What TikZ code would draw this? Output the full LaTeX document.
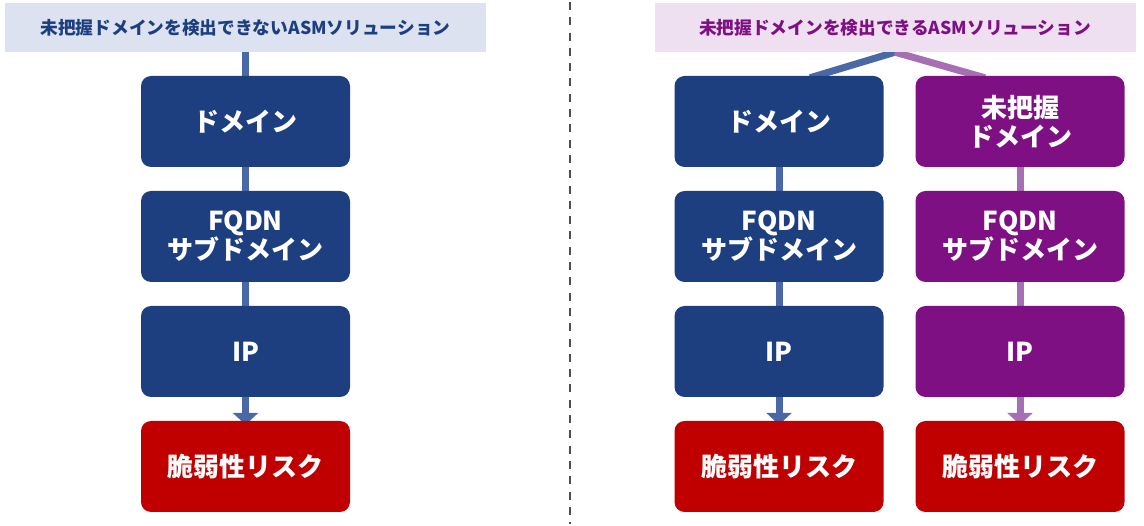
\documentclass[tikz,border=0pt]{standalone}
\usepackage{fontspec}
\newfontfamily\jp{Noto Sans CJK JP}
\usetikzlibrary{arrows.meta,backgrounds}
\definecolor{dblue}{HTML}{1E3F7F}
\definecolor{dpurple}{HTML}{7E1083}
\definecolor{dred}{HTML}{C00000}
\definecolor{lblue}{HTML}{4A68A6}
\definecolor{lpurple}{HTML}{A76FB3}
\definecolor{tblue}{HTML}{DCE2EF}
\definecolor{tpurple}{HTML}{EEE0F0}
\definecolor{dashgray}{HTML}{4D4D4D}
\tikzset{
  titlebox/.style={fill=#1, minimum width=481pt, minimum height=49pt, inner sep=0pt, font=\jp\bfseries\fontsize{17.7}{20}\selectfont},
  stepbox/.style={fill=#1, rounded corners=10pt, minimum width=209pt, minimum height=91pt, inner sep=0pt, text=white, align=center, font=\jp\bfseries\fontsize{26}{29}\selectfont},
  conn/.style={draw=#1, line width=7pt},
  arr/.style={draw=#1, line width=7pt, -{Triangle[width=25pt,length=12pt]}},
}
\begin{document}
\begin{tikzpicture}[x=1pt,y=-1pt]
\useasboundingbox (0,0) rectangle (1144,526);
% dashed separator
\coordinate (dtop) at (570,2);
\coordinate (dbot) at (570,524);
\draw[dashgray, line width=2pt, dash pattern=on 8pt off 7.3pt] (dtop) -- (dbot);
% left
\node[titlebox=tblue, text=dblue] (tL) at (245.5,27.5) {未把握ドメインを検出できないASMソリューション};
\node[stepbox=dblue] (L1) at (245.5,121.5) {ドメイン};
\node[stepbox=dblue] (L2) at (245.5,236.5) {FQDN\\サブドメイン};
\node[stepbox=dblue] (L3) at (245.5,351.5) {IP};
\node[stepbox=dred] (L4) at (245.5,466.5) {脆弱性リスク};
% right
\node[titlebox=tpurple, text=dpurple] (tR) at (895,27.5) {未把握ドメインを検出できるASMソリューション};
\node[stepbox=dblue] (A1) at (779,121.5) {ドメイン};
\node[stepbox=dblue] (A2) at (779,236.5) {FQDN\\サブドメイン};
\node[stepbox=dblue] (A3) at (779,351.5) {IP};
\node[stepbox=dred] (A4) at (779,466.5) {脆弱性リスク};
\node[stepbox=dpurple] (B1) at (1020,121.5) {未把握\\ドメイン};
\node[stepbox=dpurple] (B2) at (1020,236.5) {FQDN\\サブドメイン};
\node[stepbox=dpurple] (B3) at (1020,351.5) {IP};
\node[stepbox=dred] (B4) at (1020,466.5) {脆弱性リスク};
\begin{pgfonlayer}{background}
\draw[conn=lblue] (tL.south) -- (L1.north);
\draw[conn=lblue] (L1.south) -- (L2.north);
\draw[conn=lblue] (L2.south) -- (L3.north);
\draw[arr=lblue] (L3.south) -- ([yshift=-4pt]L4.north);
\draw[conn=lblue] (tR.south) -- ([xshift=31pt,yshift=-2pt]A1.north);
\draw[conn=lpurple] (tR.south) -- ([xshift=-35pt,yshift=-2pt]B1.north);
\draw[conn=lblue] (A1.south) -- (A2.north);
\draw[conn=lblue] (A2.south) -- (A3.north);
\draw[arr=lblue] (A3.south) -- ([yshift=-4pt]A4.north);
\draw[conn=lpurple] (B1.south) -- (B2.north);
\draw[conn=lpurple] (B2.south) -- (B3.north);
\draw[arr=lpurple] (B3.south) -- ([yshift=-4pt]B4.north);
\end{pgfonlayer}
\end{tikzpicture}
\end{document}
